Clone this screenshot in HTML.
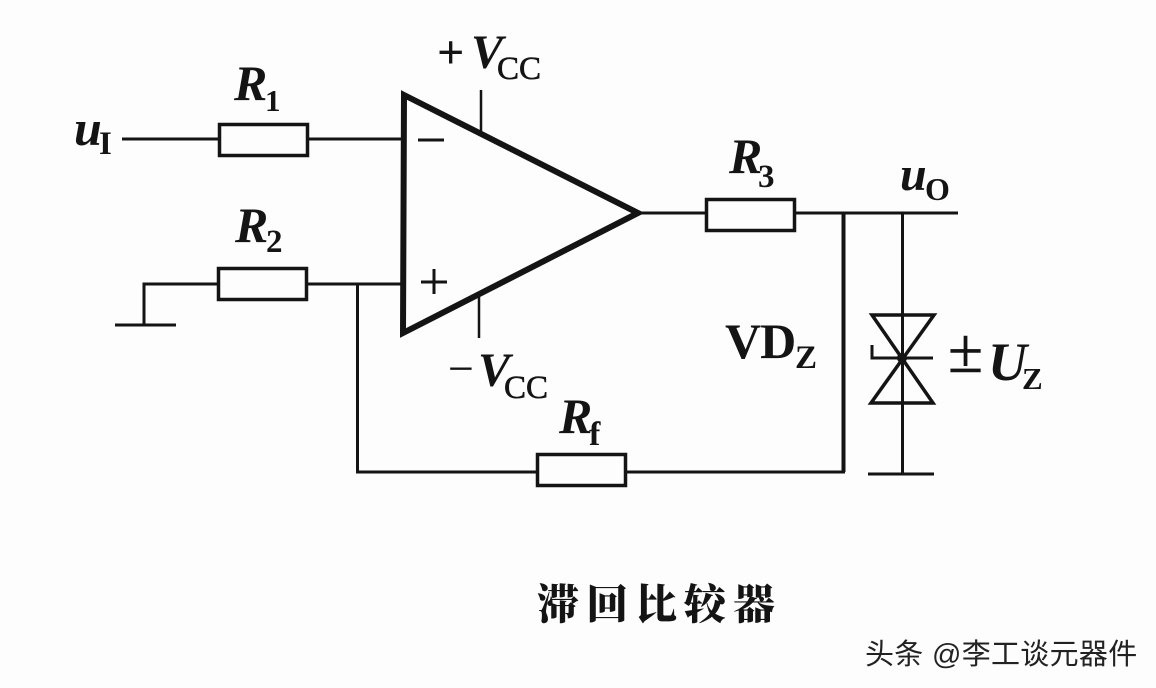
<!DOCTYPE html>
<html>
<head>
<meta charset="utf-8">
<style>
html,body{margin:0;padding:0;background:#fdfdfd;}
svg{display:block;}
text{fill:#141414;font-family:"Liberation Serif","Noto Serif CJK SC",serif;}
.i{font-style:italic;font-weight:bold;font-size:50px;}
.s{font-weight:bold;}
</style>
</head>
<body>
<svg width="1156" height="688" viewBox="0 0 1156 688" xmlns="http://www.w3.org/2000/svg">
<rect width="1156" height="688" fill="#fdfdfd"/>
<g fill="none" stroke="#141414" stroke-width="3">
  <path d="M122 139H219M308 139H403"/>
  <rect x="219.500" y="124.500" width="88" height="31" stroke-width="3.500"/>
  <path d="M144 325V284H218M307 284H403"/>
  <path d="M115 325H176" stroke-width="3"/>
  <rect x="218.500" y="268.500" width="88" height="31" stroke-width="3.500"/>
  <path d="M357.500 284V472H537M625 472H843.500V213" stroke-width="3"/>
  <path d="M843.500 213V472" stroke-width="4"/>
  <rect x="537.500" y="454.500" width="88" height="31" stroke-width="3.500"/>
  <path d="M404 95L638 213L403 333Z" stroke-width="6" stroke-linejoin="miter"/>
  <path d="M638 213H706M794 213H958"/>
  <rect x="706.500" y="199.500" width="88" height="31" stroke-width="3.500"/>
  <path d="M481 90V133M479 297V338" stroke-width="2.500"/>
  <path d="M902.500 213V474M868 474H934"/>
  <path d="M872 315H934L871 403H933Z" stroke-width="3.500"/>
  <path d="M872 345V358H933" stroke-width="3"/>
  <path d="M418 140H444M434 269V294M421 282H447" stroke-width="3"/>
</g>
<circle cx="902" cy="358" r="5" fill="#141414"/>

<text class="i" x="234" y="100">R</text><text class="s" x="265" y="111" style="font-size:31px">1</text>
<text class="i" x="235" y="242">R</text><text class="s" x="266" y="252" style="font-size:33px">2</text>
<text class="i" x="729" y="173">R</text><text class="s" x="758" y="187" style="font-size:33px">3</text>
<text class="i" x="559" y="433">R</text><text class="s" x="589" y="445" style="font-size:34px">f</text>

<text class="i" x="74" y="145" style="font-size:50px">u</text><text class="s" x="99" y="154" style="font-size:33px">I</text>
<text class="i" x="900" y="190" style="font-size:48px">u</text><text class="s" x="925" y="200" style="font-size:32px">O</text>

<text x="437" y="68" style="font-size:48px;font-weight:bold">+</text>
<text class="i" x="471" y="68" style="font-size:48px">V</text>
<text class="s" x="497" y="79" style="font-size:33px;font-weight:normal;stroke:#141414;stroke-width:.6">CC</text>

<text x="448" y="384" style="font-size:46px">−</text>
<text class="i" x="478" y="386" style="font-size:48px">V</text>
<text class="s" x="504" y="398" style="font-size:33px;font-weight:normal;stroke:#141414;stroke-width:.6">CC</text>

<text x="725" y="358" style="font-size:50px;font-weight:bold;letter-spacing:-1px">VD</text>
<text class="s" x="795" y="368" style="font-size:33px">Z</text>

<text x="948" y="372" style="font-size:64px;stroke:#141414;stroke-width:.5">±</text>
<text x="988" y="380" style="font-size:54px;font-style:italic;font-weight:bold">U</text>
<text class="s" x="1022" y="389" style="font-size:31px">Z</text>

<text x="537" y="619" style="font-family:'Noto Serif CJK SC','Noto Sans CJK SC',serif;font-size:42px;font-weight:900;letter-spacing:7px">滞回比较器</text>
<text x="865" y="664" style="font-family:'Liberation Sans','Noto Sans CJK SC',sans-serif;font-size:29px;fill:#222;letter-spacing:.3px">头条 @李工谈元器件</text>
</svg>
</body>
</html>
